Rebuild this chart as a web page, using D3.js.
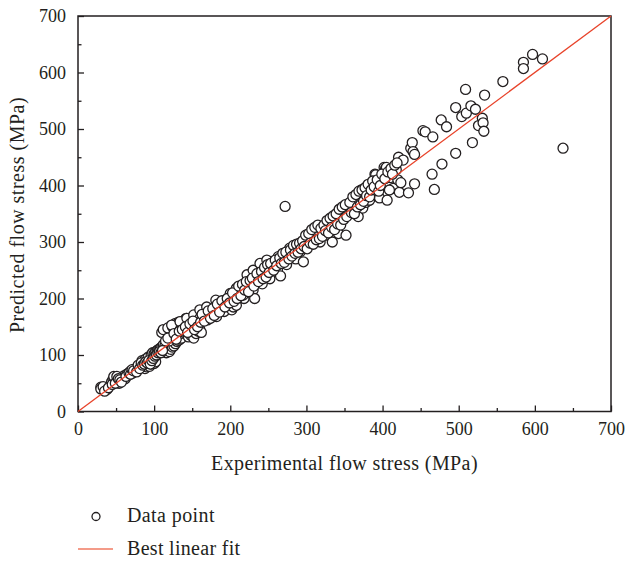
<!DOCTYPE html>
<html>
<head>
<meta charset="utf-8">
<script src="https://cdn.jsdelivr.net/npm/d3@7"></script>
<style>
  body { margin: 0; background: #fff; }
  svg text { font-family: "Liberation Serif", "Times New Roman", serif; fill: #231f20; }
</style>
</head>
<body>
<div class="chart"></div>
<script>
var svgWidth = 627;
var svgHeight = 561;

var margin = { top: 16, right: 16, bottom: 150, left: 78 };
var width = 533;
var height = 395.5;
var serif = '"Liberation Serif", "Times New Roman", serif';

// Experimental (x) vs predicted (y) flow stress, MPa
var expStress = [
  30, 32, 34, 36, 38, 44, 46, 48, 50, 52, 54, 56, 58, 60, 62, 64, 66, 68, 70, 72,
  74, 76, 78, 80, 82, 84, 86, 88, 90, 92, 94, 96, 98, 100, 102, 84, 88, 92, 96, 98,
  100, 102, 104, 106, 108, 110, 112, 114,
  110, 112, 118, 124, 128, 132, 138, 142, 123, 134, 143, 152,
  116, 120, 122, 124, 126, 128, 130, 132, 134, 136,
  120, 125, 130, 135, 140, 145, 148, 150, 152, 155, 158, 160, 162, 146, 150, 154,
  158, 160, 164, 168, 170, 172, 175, 178, 180, 182, 185, 188, 190, 192, 195, 198,
  200, 202, 204, 206, 208, 210, 212, 215, 218, 220, 222, 225, 228, 230, 232, 234,
  236, 238, 240, 242, 244, 246, 248, 250, 252, 254, 256, 258, 260, 262, 264, 266,
  268, 270, 272, 274, 276, 278, 280, 282, 284, 286, 288, 290, 292, 294, 296, 298,
  300, 302, 304, 306, 308, 310, 312, 314, 316, 318, 320, 322, 324, 326, 328, 330,
  332, 334, 336, 338, 340, 342, 344, 346, 348, 350, 352, 354, 356, 358, 360, 362,
  364, 366, 368, 370, 372, 374, 376, 378, 380, 382, 384, 386, 388, 390, 392, 396,
  400, 402, 404, 406, 408, 410, 414, 418, 420, 421, 422, 424, 427, 434, 437, 439,
  440, 442, 442,
  160, 169, 181, 200, 208, 217, 222, 230, 239, 248, 252, 263, 270, 278, 287,
  302, 313, 322, 329, 337, 346, 355, 366, 372, 383, 391, 405,
  30, 33, 35, 40, 45, 47, 49, 51, 53, 55, 57, 63, 67, 69, 71, 73, 77, 79, 81, 83,
  85, 87, 89, 91, 93, 95, 97, 99, 101, 103, 105, 107, 109, 111,
  115, 118, 126, 129, 133, 137, 141, 144, 147, 151, 153, 157, 161, 163, 166, 171,
  174, 177, 179, 183, 186, 189, 193, 196, 199, 203, 205, 209, 211, 214, 216, 219,
  221, 224, 226, 229, 231, 235, 237, 241, 243, 245, 247, 249, 251, 253, 257, 259,
  261, 265, 267, 269, 271, 273, 277, 279, 281, 283, 285, 287, 289, 291, 293, 295,
  297, 299, 301, 303, 305, 307, 309, 311, 313, 315, 317, 319, 321, 323, 325, 327,
  329, 331, 333, 335, 337, 339, 341, 343, 345, 347, 349, 351, 353, 357, 359, 361,
  363, 365, 367, 369, 371, 373, 375, 377, 379, 381, 383, 385, 387, 389, 393, 395,
  397, 399, 403, 407, 409, 411, 413, 416, 419,
  453, 456, 465, 466, 468, 477, 478, 484, 496, 496, 504, 509, 510, 516, 518, 522,
  526, 531, 532, 533, 534, 558, 585, 585, 597, 610, 637, 272
];
var predStress = [
  43, 40, 38, 41, 39, 52, 57, 60, 58, 55, 50, 53, 60, 63, 58, 66, 64, 70, 72, 68,
  75, 73, 77, 80, 84, 78, 80, 76, 79, 82, 80, 84, 86, 85, 88, 90, 92, 96, 100, 104,
  102, 106, 108, 110, 112, 114, 118, 116,
  140, 145, 148, 150, 156, 158, 160, 165, 153, 159, 165, 171,
  104, 106, 110, 114, 116, 120, 124, 126, 128, 130,
  125, 130, 135, 138, 140, 132, 135, 140, 130, 138, 142, 145, 140, 148, 152, 158,
  160, 165, 168, 172, 162, 170, 168, 175, 180, 168, 186, 190, 180, 177, 194, 188,
  195, 180, 185, 200, 188, 205, 215, 210, 200, 212, 225, 218, 222, 215, 200, 228,
  240, 232, 236, 226, 244, 250, 242, 248, 235, 255, 258, 262, 256, 250, 265, 240,
  272, 268, 275, 260, 282, 276, 288, 278, 286, 270, 292, 290, 283, 298, 265, 305,
  300, 295, 310, 312, 302, 318, 308, 320, 314, 300, 322, 318, 326, 312, 332, 320,
  336, 300, 340, 330, 346, 315, 352, 338, 356, 348, 312, 360, 350, 364, 372, 358,
  375, 368, 345, 378, 385, 360, 380, 370, 388, 374, 398, 405, 390, 420, 396, 378,
  410, 432, 430, 374, 402, 414, 395, 428, 410, 450, 388, 405, 445, 387, 466, 476,
  460, 455, 403,
  180, 185, 197, 209, 218, 206, 242, 250, 262, 268, 250, 274, 280, 289, 292,
  309, 312, 318, 324, 336, 342, 354, 368, 392, 374, 419, 432,
  40, 44, 36, 42, 48, 62, 50, 62, 58, 56, 52, 62, 68, 66, 74, 72, 70, 82, 76, 86,
  82, 84, 88, 86, 90, 84, 90, 94, 98, 100, 104, 106, 104, 108,
  125, 130, 138, 128, 142, 145, 150, 140, 155, 160, 145, 150, 158, 172, 160, 178,
  165, 182, 170, 190, 176, 196, 185, 200, 192, 210, 195, 200, 222, 205, 225, 215,
  230, 212, 232, 236, 222, 244, 230, 248, 235, 255, 238, 260, 246, 262, 250, 268,
  258, 272, 262, 280, 264, 282, 270, 286, 275, 294, 280, 296, 282, 298, 288, 302,
  292, 312, 288, 315, 298, 322, 296, 326, 304, 330, 306, 324, 310, 330, 320, 338,
  316, 342, 326, 346, 322, 350, 332, 358, 330, 362, 340, 366, 345, 370, 352, 380,
  350, 384, 362, 390, 366, 392, 372, 396, 382, 402, 380, 392, 408, 398, 410, 390,
  400, 420, 412, 424, 392, 430, 420, 436, 440,
  497, 495, 420, 486, 393, 516, 438, 504, 538, 457, 522, 570, 528, 541, 476, 535,
  506, 519, 511, 496, 560, 584, 618, 607, 632, 624, 466, 363
];
var xTicks = [0, 100, 200, 300, 400, 500, 600, 700];
var yTicks = [0, 100, 200, 300, 400, 500, 600, 700];
var minorTicks = [50, 150, 250, 350, 450, 550, 650];
var fitLine = [0, 700];

var points = expStress.map(function (d, i) { return { x: d, y: predStress[i] }; });

var svg = d3.select(".chart")
  .append("svg")
  .attr("width", svgWidth)
  .attr("height", svgHeight);

var chartGroup = svg.append("g")
  .attr("transform", `translate(${margin.left}, ${margin.top})`);

var xLinearScale = d3.scaleLinear().domain([0, 700]).range([0, width]);
var yLinearScale = d3.scaleLinear().domain([0, 700]).range([height, 0]);

// axes with inward ticks
var bottomAxis = d3.axisBottom(xLinearScale).tickValues(xTicks).tickSizeInner(-6).tickSizeOuter(0).tickPadding(11);
var leftAxis = d3.axisLeft(yLinearScale).tickValues(yTicks).tickSizeInner(-6).tickSizeOuter(0).tickPadding(12);

var xAxisG = chartGroup.append("g")
  .attr("transform", `translate(0, ${height})`)
  .call(bottomAxis);
var yAxisG = chartGroup.append("g").call(leftAxis);

chartGroup.append("g")
  .attr("transform", `translate(0, ${height})`)
  .call(d3.axisBottom(xLinearScale).tickValues(minorTicks).tickSizeInner(-3.5).tickSizeOuter(0).tickFormat(""));
chartGroup.append("g")
  .call(d3.axisLeft(yLinearScale).tickValues(minorTicks).tickSizeInner(-3.5).tickSizeOuter(0).tickFormat(""));

chartGroup.selectAll(".domain").remove();
chartGroup.selectAll("g").attr("font-family", serif);
chartGroup.selectAll(".tick line").attr("stroke", "#231f20").attr("stroke-width", 1.3);
chartGroup.selectAll(".tick text")
  .attr("font-size", "18px")
  .attr("fill", "#231f20")
  .style("font-family", serif);

// frame
chartGroup.append("rect")
  .attr("x", 0).attr("y", 0)
  .attr("width", width).attr("height", height)
  .attr("fill", "none")
  .attr("stroke", "#231f20")
  .attr("stroke-width", 1.5);

// data points
chartGroup.selectAll("circle.pt")
  .data(points)
  .enter()
  .append("circle")
  .attr("class", "pt")
  .attr("cx", d => xLinearScale(d.x))
  .attr("cy", d => yLinearScale(d.y))
  .attr("r", 5)
  .attr("fill", "#fff")
  .attr("stroke", "#231f20")
  .attr("stroke-width", 1.3);

// best linear fit
chartGroup.append("line")
  .attr("x1", xLinearScale(fitLine[0]))
  .attr("y1", yLinearScale(fitLine[0]))
  .attr("x2", xLinearScale(fitLine[1]))
  .attr("y2", yLinearScale(fitLine[1]))
  .attr("stroke", "#e8432a")
  .attr("stroke-width", 1.3);

// axis labels
chartGroup.append("text")
  .attr("transform", "rotate(-90)")
  .attr("x", -199)
  .attr("y", -54)
  .attr("text-anchor", "middle")
  .attr("font-size", "20px")
  .attr("letter-spacing", "0.5px")
  .style("font-family", serif)
  .text("Predicted flow stress (MPa)");

chartGroup.append("text")
  .attr("x", width / 2)
  .attr("y", height + 58)
  .attr("text-anchor", "middle")
  .attr("font-size", "20px")
  .attr("letter-spacing", "0.4px")
  .style("font-family", serif)
  .text("Experimental flow stress (MPa)");

// legend
var legend = svg.append("g");
legend.append("circle")
  .attr("cx", 96).attr("cy", 516.5).attr("r", 4)
  .attr("fill", "#fff").attr("stroke", "#231f20").attr("stroke-width", 1.3);
legend.append("text")
  .attr("x", 127).attr("y", 522)
  .attr("font-size", "20px")
  .attr("letter-spacing", "0.4px")
  .style("font-family", serif)
  .text("Data point");
legend.append("line")
  .attr("x1", 78).attr("x2", 113)
  .attr("y1", 549).attr("y2", 549)
  .attr("stroke", "#f07a62").attr("stroke-width", 1.6);
legend.append("text")
  .attr("x", 127).attr("y", 555)
  .attr("font-size", "20px")
  .attr("letter-spacing", "0.3px")
  .style("font-family", serif)
  .text("Best linear fit");
</script>
</body>
</html>
